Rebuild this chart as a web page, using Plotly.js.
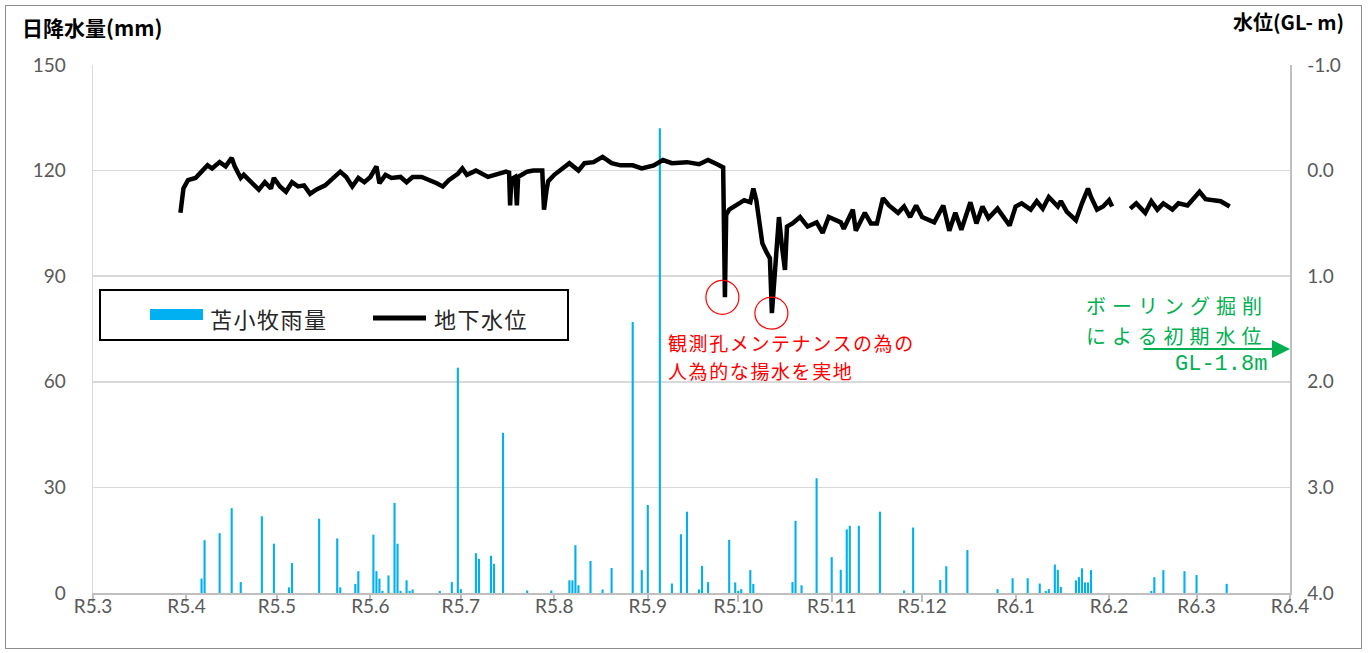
<!DOCTYPE html>
<html>
<head>
<meta charset="utf-8">
<script src="https://cdn.plot.ly/plotly-3.0.1.min.js"></script>
<style>
html,body{margin:0;padding:0;background:#fff;}
#chart{width:1372px;height:653px;}
#frame{position:absolute;left:5px;top:5px;width:1355px;height:642px;border:1px solid #8c8c8c;pointer-events:none;}
</style>
</head>
<body>
<div id="chart"></div>
<div id="frame"></div>
<script>
// ---- axis ticks ----
const monthTicks = ['2023-03-01','2023-04-01','2023-05-01','2023-06-01','2023-07-01','2023-08-01','2023-09-01',
  '2023-10-01','2023-11-01','2023-12-01','2024-01-01','2024-02-01','2024-03-01','2024-04-01'];
const monthLabels = ['R5.3','R5.4','R5.5','R5.6','R5.7','R5.8','R5.9','R5.10','R5.11','R5.12','R6.1','R6.2','R6.3','R6.4'];
const rainTicks = [0,30,60,90,120,150];
const levelTicks = [-1,0,1,2,3,4];
const levelLabels = ['-1.0','0.0','1.0','2.0','3.0','4.0'];

// ---- daily rainfall (mm), Tomakomai ----
const rainDates = ['2023-04-06','2023-04-07','2023-04-12','2023-04-16','2023-04-19','2023-04-26','2023-04-30',
  '2023-05-05','2023-05-06','2023-05-15','2023-05-21','2023-05-22','2023-05-27','2023-05-28',
  '2023-06-02','2023-06-03','2023-06-04','2023-06-05','2023-06-07','2023-06-09','2023-06-10','2023-06-11',
  '2023-06-13','2023-06-14','2023-06-15','2023-06-24','2023-06-28','2023-06-30',
  '2023-07-01','2023-07-06','2023-07-07','2023-07-11','2023-07-12','2023-07-15','2023-07-23','2023-07-31',
  '2023-08-06','2023-08-07','2023-08-08','2023-08-09','2023-08-13','2023-08-17','2023-08-20','2023-08-27','2023-08-30',
  '2023-09-01','2023-09-05','2023-09-09','2023-09-12','2023-09-14','2023-09-18','2023-09-19','2023-09-21','2023-09-28','2023-09-30',
  '2023-10-01','2023-10-02','2023-10-05','2023-10-06','2023-10-19','2023-10-20','2023-10-22','2023-10-27',
  '2023-11-01','2023-11-04','2023-11-06','2023-11-07','2023-11-10','2023-11-17','2023-11-25','2023-11-28',
  '2023-12-07','2023-12-09','2023-12-16','2023-12-26','2023-12-31',
  '2024-01-05','2024-01-09','2024-01-11','2024-01-12','2024-01-14','2024-01-15','2024-01-16','2024-01-21',
  '2024-01-22','2024-01-23','2024-01-24','2024-01-25','2024-01-26',
  '2024-02-15','2024-02-16','2024-02-19','2024-02-26','2024-03-01','2024-03-11'];
const rainMm = [4.1,15.0,17.0,24.1,3.1,21.8,14.0,
  1.6,8.5,21.1,15.5,1.6,2.6,6.2,
  16.6,6.2,4.1,0.6,5.0,25.6,14.0,0.6,
  3.6,0.6,1.0,0.6,3.1,64.0,
  1.1,11.3,9.7,10.6,8.3,45.5,0.7,0.7,
  3.6,3.6,13.6,2.2,9.1,1.0,7.1,77.0,6.5,
  25.0,132.0,2.7,16.7,23.1,1.0,7.7,3.1,15.1,3.0,
  0.6,1.1,6.5,2.6,3.1,20.5,2.2,32.6,
  10.2,6.6,18.1,19.1,19.1,23.1,0.7,18.6,
  3.7,7.6,12.2,1.1,4.2,
  4.2,2.7,0.6,1.1,8.1,6.6,1.7,3.6,
  4.5,7.0,3.0,3.0,6.5,
  0.6,4.5,6.5,6.2,5.1,2.6];

// ---- groundwater level (GL- m) ----
const gwDates = ['2023-03-30 00:00','2023-03-30 12:00','2023-03-31','2023-04-01 12:00','2023-04-04','2023-04-06','2023-04-08',
  '2023-04-09 12:00','2023-04-12','2023-04-14','2023-04-16','2023-04-17','2023-04-19','2023-04-20','2023-04-23',
  '2023-04-25','2023-04-27','2023-04-29','2023-04-30','2023-05-02','2023-05-04','2023-05-06','2023-05-08',
  '2023-05-10','2023-05-12','2023-05-14','2023-05-17','2023-05-20','2023-05-22','2023-05-24','2023-05-26',
  '2023-05-28','2023-05-30','2023-06-01','2023-06-03','2023-06-04','2023-06-06','2023-06-08','2023-06-11',
  '2023-06-13','2023-06-15','2023-06-18','2023-06-21','2023-06-23','2023-06-25','2023-06-27','2023-06-30',
  '2023-07-01 12:00','2023-07-03','2023-07-06','2023-07-10','2023-07-13','2023-07-16','2023-07-17 00:00',
  '2023-07-17 08:00','2023-07-17 18:00','2023-07-19 00:00','2023-07-19 14:00','2023-07-20','2023-07-23',
  '2023-07-25','2023-07-28 00:00','2023-07-28 14:00','2023-07-29 12:00','2023-07-30','2023-08-01','2023-08-04',
  '2023-08-06','2023-08-09','2023-08-11','2023-08-14','2023-08-17','2023-08-20','2023-08-23','2023-08-27',
  '2023-08-30','2023-09-03','2023-09-06','2023-09-09','2023-09-14','2023-09-18','2023-09-21','2023-09-24',
  '2023-09-26 00:00','2023-09-26 14:00','2023-09-26 20:00','2023-09-27 00:00','2023-09-28','2023-09-30',
  '2023-10-03','2023-10-05','2023-10-06','2023-10-07','2023-10-08','2023-10-09','2023-10-10 12:00',
  '2023-10-11 12:00','2023-10-12 04:00','2023-10-13 20:00','2023-10-14 12:00','2023-10-15 12:00',
  '2023-10-16 12:00','2023-10-17 04:00','2023-10-19','2023-10-21 12:00','2023-10-24','2023-10-27',
  '2023-10-29','2023-10-31','2023-11-04','2023-11-05','2023-11-08','2023-11-09','2023-11-12','2023-11-14',
  '2023-11-16','2023-11-18','2023-11-20','2023-11-23','2023-11-25','2023-11-27','2023-11-29','2023-12-01',
  '2023-12-05','2023-12-08','2023-12-10','2023-12-12','2023-12-14','2023-12-17','2023-12-19','2023-12-21',
  '2023-12-23','2023-12-26','2023-12-28','2023-12-30','2024-01-01','2024-01-03','2024-01-06','2024-01-08',
  '2024-01-10','2024-01-12','2024-01-15','2024-01-16','2024-01-18','2024-01-21','2024-01-23','2024-01-25',
  '2024-01-26','2024-01-28','2024-01-30','2024-02-01','2024-02-02','2024-02-05','2024-02-08','2024-02-10',
  '2024-02-13','2024-02-15','2024-02-17','2024-02-19','2024-02-22','2024-02-24','2024-02-27','2024-02-29',
  '2024-03-02','2024-03-04','2024-03-06','2024-03-09','2024-03-12'];
const gwLevel = [0.40,0.28,0.17,0.09,0.07,0.01,-0.05,
  -0.02,-0.08,-0.04,-0.12,-0.04,0.07,0.04,0.12,
  0.18,0.11,0.17,0.07,0.15,0.20,0.11,0.15,
  0.14,0.22,0.18,0.14,0.07,0.01,0.06,0.15,
  0.07,0.11,0.06,-0.04,0.12,0.04,0.07,0.06,
  0.11,0.06,0.06,0.09,0.12,0.15,0.09,0.03,
  -0.02,0.04,0.00,0.06,0.04,0.01,0.02,
  0.33,0.08,0.06,0.33,0.06,0.01,
  0.00,0.00,0.37,0.17,0.10,0.04,-0.02,
  -0.07,0.00,-0.07,-0.08,-0.13,-0.07,-0.05,-0.05,
  -0.02,-0.05,-0.10,-0.07,-0.08,-0.06,-0.10,-0.06,
  -0.03,1.20,0.70,0.42,0.37,0.33,
  0.28,0.30,0.17,0.28,0.53,0.69,0.78,
  0.83,1.35,0.63,0.44,0.72,
  0.94,0.53,0.50,0.44,0.53,0.49,
  0.59,0.44,0.49,0.55,0.37,0.57,0.40,0.50,
  0.50,0.26,0.33,0.40,0.34,0.44,0.33,0.44,
  0.49,0.33,0.57,0.40,0.56,0.30,0.50,0.34,
  0.45,0.36,0.44,0.52,0.34,0.31,0.37,0.29,
  0.36,0.25,0.34,0.29,0.39,0.47,0.31,0.17,
  0.25,0.37,0.34,0.28,0.34,null,0.36,0.31,
  0.40,0.29,0.37,0.31,0.37,0.31,0.33,0.27,
  0.20,0.27,0.28,0.29,0.34];

// ---- layout helpers (pixel -> paper) ----
const L = 93, T = 65, W = 1197, H = 528;
const px = x => (x - L) / W;
const py = y => (T + H - y) / H;
const JP = 'Noto Sans CJK JP, Noto Sans, sans-serif';
const NUM = 'Lato, Noto Sans, sans-serif';
const DAY = 86400000;

const traces = [
  { type:'bar', name:'苫小牧雨量', x:rainDates, y:rainMm, yaxis:'y',
    marker:{color:'#00B0F0', line:{width:0}}, width:rainDates.map(()=>0.7*DAY), hoverinfo:'x+y' },
  { type:'scatter', mode:'lines', name:'地下水位', x:gwDates, y:gwLevel, yaxis:'y2',
    line:{color:'#000000', width:4.5}, connectgaps:false }
];

const layout = {
  width:1372, height:653,
  margin:{l:L, r:1372-L-W, t:T, b:653-T-H},
  paper_bgcolor:'#ffffff', plot_bgcolor:'#ffffff',
  showlegend:false,
  xaxis:{ type:'date', range:['2023-03-01','2024-04-01'], tickmode:'array', tickvals:monthTicks, ticktext:monthLabels,
    ticks:'outside', ticklen:7, tickwidth:2, tickcolor:'#bfbfbf', showline:true, linecolor:'#bfbfbf', linewidth:2,
    showgrid:false, zeroline:false, tickfont:{family:NUM, size:19, color:'#595959'}, ticklabelstandoff:-12 },
  yaxis:{ range:[0,150], tickmode:'array', tickvals:rainTicks, showgrid:true, gridcolor:'#d9d9d9', gridwidth:1.5,
    showline:true, linecolor:'#d9d9d9', linewidth:1.5, zeroline:false, ticks:'',
    tickfont:{family:NUM, size:19, color:'#595959'}, ticklabelstandoff:22 },
  yaxis2:{ overlaying:'y', side:'right', range:[4,-1], tickmode:'array', tickvals:levelTicks, ticktext:levelLabels,
    showgrid:false, showline:true, linecolor:'#bfbfbf', linewidth:1.5, zeroline:false, ticks:'',
    tickfont:{family:NUM, size:19, color:'#595959'}, ticklabelstandoff:12 },
  shapes:[
    // white box behind the red note (hides the gridline there)
    {type:'rect', xref:'paper', yref:'paper', x0:px(663), x1:px(950), y0:py(387), y1:py(331),
      line:{width:0}, fillcolor:'#ffffff', layer:'below'},
    // legend box
    {type:'rect', xref:'paper', yref:'paper', x0:px(100), x1:px(568), y0:py(340), y1:py(290),
      line:{color:'#000000', width:2}, fillcolor:'#ffffff', layer:'above'},
    {type:'rect', xref:'paper', yref:'paper', x0:px(150), x1:px(203), y0:py(320), y1:py(309),
      line:{width:0}, fillcolor:'#00B0F0', layer:'above'},
    {type:'line', xref:'paper', yref:'paper', x0:px(373), x1:px(426), y0:py(318), y1:py(318),
      line:{color:'#000000', width:5}, layer:'above'},
    // red circles at pumping spikes
    {type:'circle', xref:'x', yref:'y2', xsizemode:'pixel', ysizemode:'pixel',
      xanchor:'2023-09-26 14:00', yanchor:1.20, x0:-19, x1:14, y0:-17, y1:17,
      line:{color:'#FF0000', width:1.2}, layer:'above'},
    {type:'circle', xref:'x', yref:'y2', xsizemode:'pixel', ysizemode:'pixel',
      xanchor:'2023-10-12 04:00', yanchor:1.35, x0:-17, x1:16, y0:-16, y1:16,
      line:{color:'#FF0000', width:1.2}, layer:'above'}
  ],
  annotations:[
    {xref:'paper', yref:'paper', x:px(20), y:py(27), xanchor:'left', yanchor:'middle', showarrow:false,
      text:'<b>日降水量(mm)</b>', font:{family:JP, size:21, color:'#000000'}},
    {xref:'paper', yref:'paper', x:px(1346), y:py(22), xanchor:'right', yanchor:'middle', showarrow:false,
      text:'<b>水位(GL- m)</b>', font:{family:JP, size:20, color:'#000000'}},
    {xref:'paper', yref:'paper', x:px(208), y:py(318), xanchor:'left', yanchor:'middle', showarrow:false,
      text:'<span style="letter-spacing:1.5px">苫小牧雨量</span>', font:{family:JP, size:22, color:'#262626'}},
    {xref:'paper', yref:'paper', x:px(432), y:py(318), xanchor:'left', yanchor:'middle', showarrow:false,
      text:'<span style="letter-spacing:1.5px">地下水位</span>', font:{family:JP, size:22, color:'#262626'}},
    {xref:'paper', yref:'paper', x:px(666), y:py(342), xanchor:'left', yanchor:'middle', showarrow:false,
      text:'<span style="letter-spacing:1.6px">観測孔メンテナンスの為の</span>',
      font:{family:JP, size:19, color:'#FF0000'}},
    {xref:'paper', yref:'paper', x:px(666), y:py(370), xanchor:'left', yanchor:'middle', showarrow:false,
      text:'<span style="letter-spacing:1.6px">人為的な揚水を実地</span>',
      font:{family:JP, size:19, color:'#FF0000'}},
    {xref:'paper', yref:'paper', x:px(1084), y:py(305), xanchor:'left', yanchor:'middle', showarrow:false,
      text:'<span style="letter-spacing:6px">ボーリング掘削</span>', font:{family:JP, size:20, color:'#00B050'}},
    {xref:'paper', yref:'paper', x:px(1084), y:py(335), xanchor:'left', yanchor:'middle', showarrow:false,
      text:'<span style="letter-spacing:6px">による初期水位</span>', font:{family:JP, size:20, color:'#00B050'}},
    {xref:'paper', yref:'paper', x:px(1290), y:py(349), ax:-148, ay:0, axref:'pixel', ayref:'pixel',
      text:'', showarrow:true, arrowhead:2, arrowsize:1.8, arrowwidth:2, arrowcolor:'#00B050'},
    {xref:'paper', yref:'paper', x:px(1269), y:py(364), xanchor:'right', yanchor:'middle', showarrow:false,
      text:'GL-1.8m', font:{family:'Liberation Mono, DejaVu Sans Mono, monospace', size:22, color:'#00B050'}}
  ]
};

Plotly.newPlot('chart', traces, layout, {staticPlot:true, displayModeBar:false});
</script>
</body>
</html>
